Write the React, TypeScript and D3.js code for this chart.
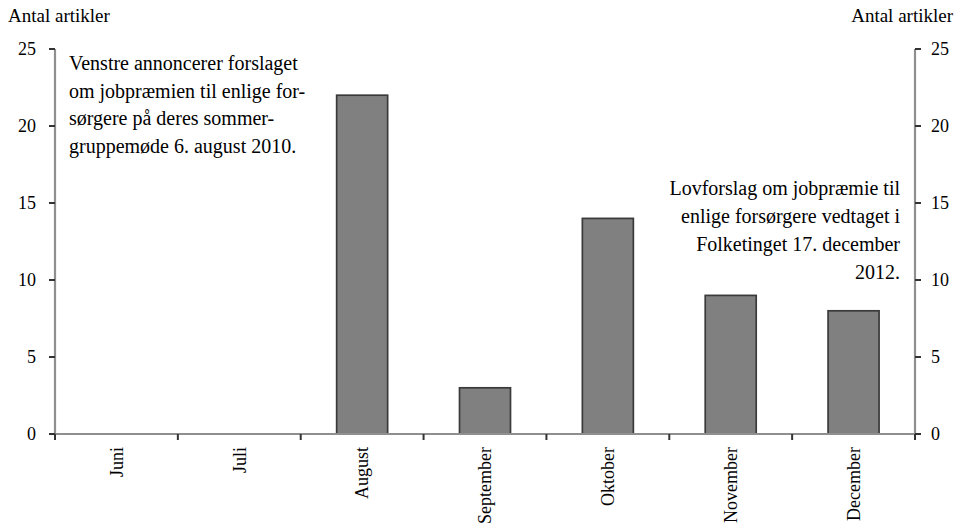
import React from "react";
import * as d3 from "d3";

const months = ["Juni", "Juli", "August", "September", "Oktober", "November", "December"];
const articles = [0, 0, 22, 3, 14, 9, 8];
const yTicks = [0, 5, 10, 15, 20, 25];
const axisTitle = "Antal artikler";
const noteLeft = [
  "Venstre annoncerer forslaget",
  "om jobpræmien til enlige for-",
  "sørgere på deres sommer-",
  "gruppemøde 6. august 2010.",
];
const noteRight = [
  "Lovforslag om jobpræmie til",
  "enlige forsørgere vedtaget i",
  "Folketinget 17. december",
  "2012.",
];

const W = 961;
const H = 529;
const left = 55;
const right = 915;
const top = 49;
const bottom = 434;
const font = "'Liberation Serif', 'Times New Roman', serif";

export default function App() {
  const y = d3.scaleLinear().domain([0, 25]).range([bottom, top]);
  const slots = d3.scaleBand<string>().domain(months).range([left, right]).padding(0);
  const bars = d3
    .scaleBand<string>()
    .domain(months)
    .range([left, right])
    .paddingInner(0.585)
    .paddingOuter(0.2925);

  const boundaries = d3.range(months.length + 1).map((i) => left + i * slots.step());
  const axisColor = "#8f8f8f";
  const ink = "#000";

  return (
    <svg
      width={W}
      height={H}
      style={{ position: "absolute", left: 0, top: 0, background: "#fff", fontFamily: font }}
    >
      <rect width={W} height={H} fill="#fff" />

      {/* bars */}
      {months.map((m, i) =>
        articles[i] > 0 ? (
          <rect
            key={m}
            x={bars(m)!}
            y={y(articles[i])}
            width={bars.bandwidth()}
            height={y(0) - y(articles[i])}
            fill="#808080"
            stroke="#3a3a3a"
            strokeWidth={1.7}
          />
        ) : null
      )}

      {/* axes */}
      <line x1={left} x2={left} y1={top} y2={bottom} stroke={axisColor} strokeWidth={2.2} />
      <line x1={right} x2={right} y1={top} y2={bottom} stroke={axisColor} strokeWidth={2.2} />
      <line x1={left} x2={right} y1={bottom} y2={bottom} stroke={axisColor} strokeWidth={2.2} />

      {yTicks.map((t) => (
        <g key={t}>
          <line x1={left - 6} x2={left} y1={y(t)} y2={y(t)} stroke="#333" strokeWidth={2} />
          <line x1={right} x2={right + 6} y1={y(t)} y2={y(t)} stroke="#333" strokeWidth={2} />
          <text x={36} y={y(t)} dy="0.35em" textAnchor="end" fontSize={18} fill={ink}>
            {t}
          </text>
          <text x={931} y={y(t)} dy="0.35em" textAnchor="start" fontSize={18} fill={ink}>
            {t}
          </text>
        </g>
      ))}

      {boundaries.map((bx, i) => (
        <line key={i} x1={bx} x2={bx} y1={bottom} y2={bottom + 6} stroke="#333" strokeWidth={2} />
      ))}

      {months.map((m) => {
        const cx = slots(m)! + slots.bandwidth() / 2;
        return (
          <text
            key={m}
            transform={`translate(${cx},${bottom + 13}) rotate(-90)`}
            dy="0.35em"
            textAnchor="end"
            fontSize={18}
            fill={ink}
          >
            {m}
          </text>
        );
      })}

      {/* axis titles */}
      <text x={8} y={22} fontSize={19} fill={ink}>
        {axisTitle}
      </text>
      <text x={953} y={22} fontSize={19} fill={ink} textAnchor="end">
        {axisTitle}
      </text>

      {/* annotations */}
      {noteLeft.map((line, i) => (
        <text key={i} x={69} y={70 + i * 27.5} fontSize={20} fill={ink}>
          {line}
        </text>
      ))}
      {noteRight.map((line, i) => (
        <text key={i} x={900} y={195 + i * 28} fontSize={20} fill={ink} textAnchor="end">
          {line}
        </text>
      ))}
    </svg>
  );
}
